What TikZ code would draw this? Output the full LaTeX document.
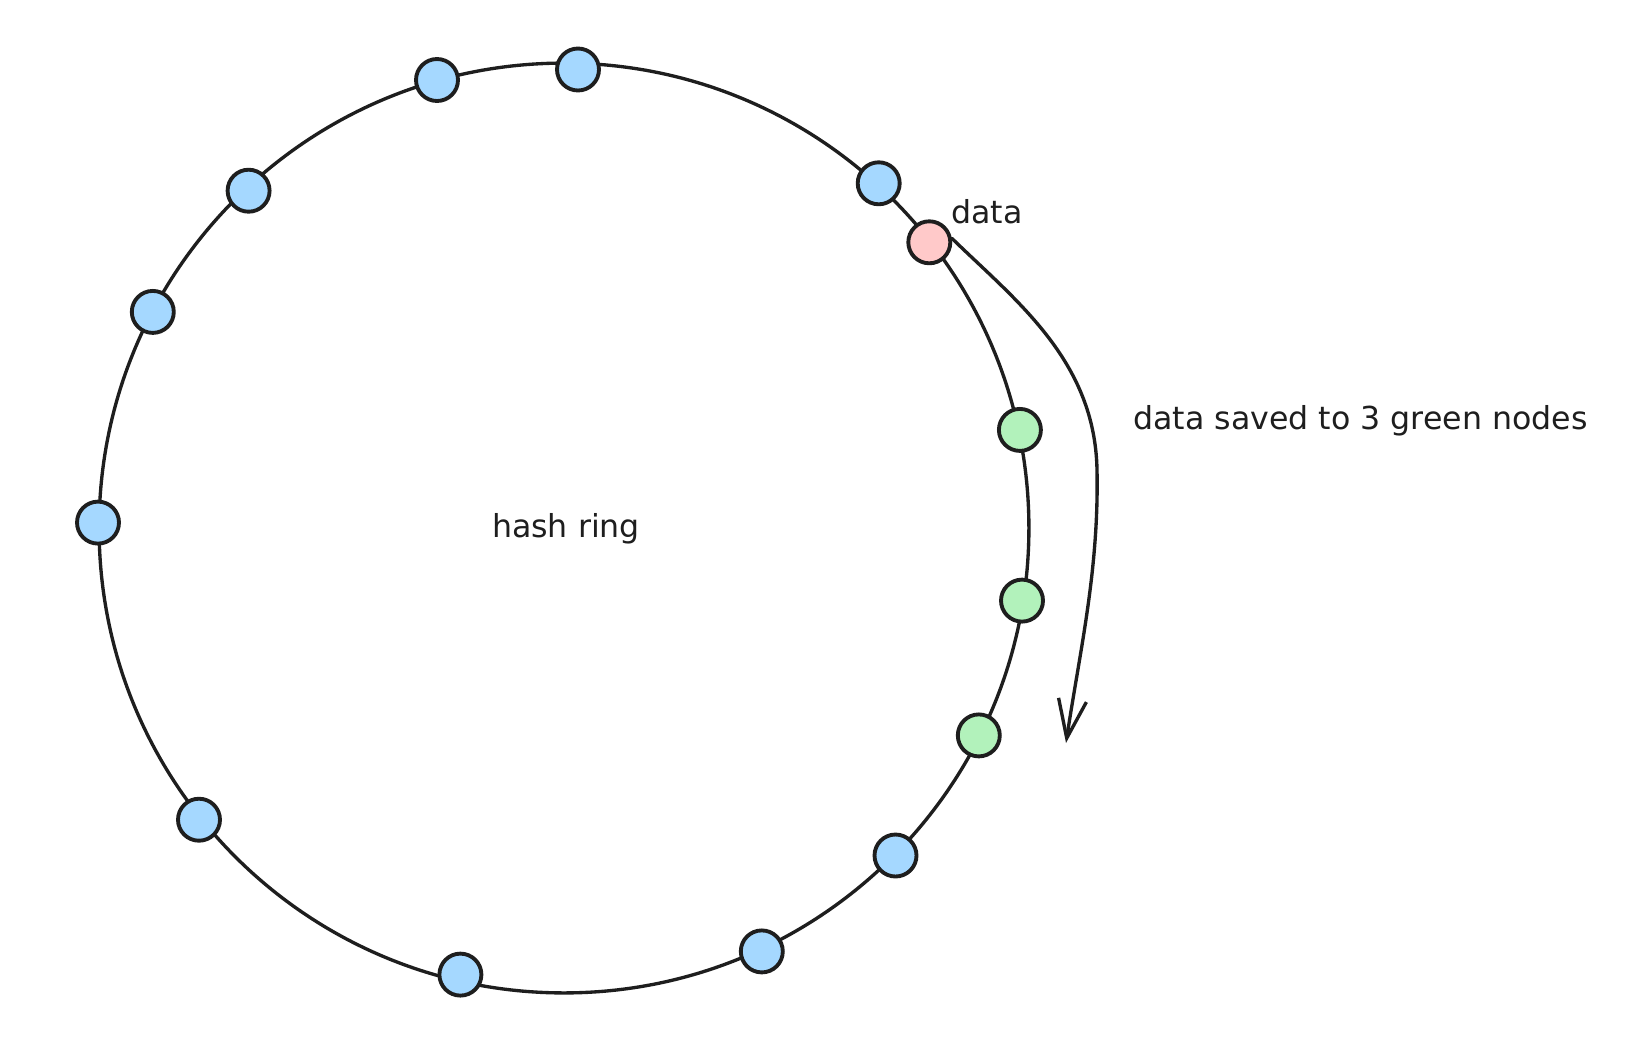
\documentclass[tikz,border=0pt]{standalone}
\usepackage{fontspec}
\setmainfont{DejaVu Sans}
\usetikzlibrary{arrows.meta}
\definecolor{ink}{HTML}{1E1E1E}
\definecolor{nblue}{HTML}{A5D8FF}
\definecolor{npink}{HTML}{FFC9C9}
\definecolor{ngreen}{HTML}{B2F2BB}
\begin{document}
\begin{tikzpicture}[x=0.02cm,y=-0.02cm,
  ringnode/.style={circle, draw=ink, line width=2.2pt, minimum size=0.84cm, inner sep=0pt},
  bluenode/.style={ringnode, fill=nblue},
  pinknode/.style={ringnode, fill=npink},
  greennode/.style={ringnode, fill=ngreen},
  lbl/.style={font=\fontsize{18pt}{21pt}\selectfont, text=ink, inner sep=0pt},
  ringline/.style={draw=ink, line width=1.9pt},
  flow/.style={draw=ink, line width=1.9pt, line cap=round, line join=round, -{Straight Barb[length=22pt,width=16pt]}}]
\useasboundingbox[fill=white] (0,0) rectangle (1652,1062);
% ring
\draw[ringline] (564,528) circle[radius=9.3cm];
% nodes on the ring
\node[bluenode] (b1) at (578,69.5) {};
\node[bluenode] (b2) at (437,80) {};
\node[bluenode] (b3) at (248.6,190.7) {};
\node[bluenode] (b4) at (152.8,311.9) {};
\node[bluenode] (b5) at (98,522.6) {};
\node[bluenode] (b6) at (199,819.7) {};
\node[bluenode] (b7) at (460.4,974.6) {};
\node[bluenode] (b8) at (761.8,951.4) {};
\node[bluenode] (b9) at (895.5,855.5) {};
\node[greennode] (g3) at (978.8,735.4) {};
\node[greennode] (g2) at (1022,600.6) {};
\node[greennode] (g1) at (1019.9,429.9) {};
\node[pinknode] (p) at (929.3,242.3) {};
\node[bluenode] (b10) at (878.7,183.3) {};
% labels
\node[lbl] (ringlabel) at (566,529) {hash ring};
\node[lbl] (datalabel) at (987,212) {data};
\node[lbl, anchor=west] (savelabel) at (1133,421) {data saved to 3 green nodes};
% arrow
\coordinate (bend) at (1097,470);
\coordinate (tip) at (1066,743);
\draw[flow] (p.10) .. controls (1015,300) and (1095,360) .. (bend)
  .. controls (1099,570) and (1080,650) .. (tip);
\end{tikzpicture}
\end{document}
